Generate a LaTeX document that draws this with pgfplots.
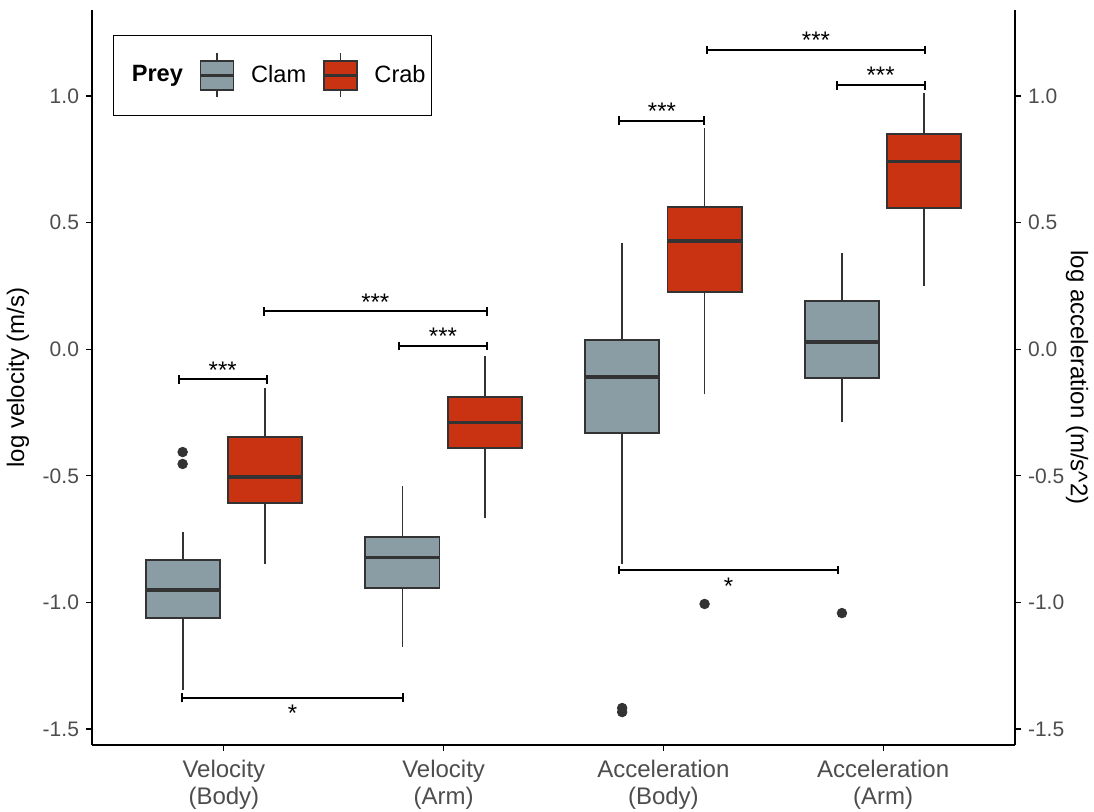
\documentclass[border=0pt]{standalone}
\usepackage{pgfplots}
\pgfplotsset{compat=1.18}
\usepackage{fontspec}
\setmainfont{Liberation Sans}
\definecolor{clam}{RGB}{138,157,164}
\definecolor{crab}{RGB}{201,51,18}
\definecolor{boxline}{RGB}{51,51,51}
\definecolor{ticktext}{RGB}{77,77,77}
% #1 fill, #2 left, #3 centre, #4 right, #5 lower whisker, #6 Q1, #7 median, #8 Q3, #9 upper whisker
\newcommand{\bx}[9]{%
  \addplot[forget plot, boxline, line width=0.9pt] coordinates {(#3,#5) (#3,#6)};
  \addplot[forget plot, boxline, line width=0.9pt] coordinates {(#3,#8) (#3,#9)};
  \addplot[forget plot, fill=#1, draw=boxline, line width=0.9pt] coordinates {(#2,#6) (#4,#6) (#4,#8) (#2,#8)} -- cycle;
  \addplot[forget plot, boxline, line width=1.8pt] coordinates {(#2,#7) (#4,#7)};
}
\begin{document}
\begin{tikzpicture}
\pgfplotsset{
  base/.style={
    scale only axis, width=461.5pt, height=367.5pt,
    xmin=0.4, xmax=4.6, ymin=-1.563, ymax=1.34,
    ytick={-1.5,-1,-0.5,0,0.5,1},
    yticklabels={-1.5,-1.0,-0.5,0.0,0.5,1.0},
    tick align=outside, major tick length=3pt,
    every tick/.style={black, line width=0.6pt},
    axis line style={black, line width=0.75pt},
    yticklabel style={font=\fontsize{10.5}{12}\selectfont, color=ticktext},
    label style={font=\fontsize{12}{14}\selectfont, color=black},
  },
  outl/.style={forget plot, only marks, mark=*, mark size=2.4pt, color=boxline},
  brk/.style={forget plot, black, line width=1pt, mark=|, mark size=2.2pt, mark options={line width=1pt}},
}
\begin{axis}[base,
  axis x line*=bottom, axis y line*=left,
  xtick={1,2,3,4},
  xticklabels={Velocity\\(Body),Velocity\\(Arm),Acceleration\\(Body),Acceleration\\(Arm)},
  xticklabel style={align=center, font=\fontsize{12}{13.5}\selectfont, color=ticktext, yshift=-1pt},
  ylabel={log velocity (m/s)},
  legend columns=-1,
  legend style={at={(0.023,0.966)}, anchor=north west, draw=black, line width=0.6pt,
    font=\fontsize{11.8}{14}\selectfont, inner xsep=1pt, inner ysep=8.5pt,
    /tikz/every even column/.append style={column sep=6pt},
    /tikz/every odd column/.append style={column sep=6pt},
    /tikz/column 1/.style={column sep=2pt}},
  legend cell align=left,
]
% Velocity (Body)
\bx{clam}{0.644}{0.8125}{0.981}{-1.346}{-1.062}{-0.951}{-0.833}{-0.722}
\bx{crab}{1.019}{1.1875}{1.356}{-0.848}{-0.607}{-0.504}{-0.346}{-0.153}
% Velocity (Arm)
\bx{clam}{1.644}{1.8125}{1.981}{-1.175}{-0.944}{-0.822}{-0.740}{-0.539}
\bx{crab}{2.019}{2.1875}{2.356}{-0.668}{-0.391}{-0.290}{-0.188}{-0.027}
% Acceleration (Body)
\bx{clam}{2.644}{2.8125}{2.981}{-0.848}{-0.332}{-0.109}{0.036}{0.421}
\bx{crab}{3.019}{3.1875}{3.356}{-0.178}{0.227}{0.427}{0.563}{0.872}
% Acceleration (Arm)
\bx{clam}{3.644}{3.8125}{3.981}{-0.289}{-0.115}{0.028}{0.190}{0.381}
\bx{crab}{4.019}{4.1875}{4.356}{0.250}{0.559}{0.741}{0.850}{1.011}
% outliers
\addplot[outl] coordinates {(0.8125,-0.406) (0.8125,-0.453) (2.8125,-1.417) (2.8125,-1.433) (3.1875,-1.006) (3.8125,-1.042)};
% significance brackets
\addplot[brk] coordinates {(0.795,-0.119) (1.195,-0.119)};
\addplot[brk] coordinates {(1.181,0.150) (2.197,0.150)};
\addplot[brk] coordinates {(1.797,0.013) (2.197,0.013)};
\addplot[brk] coordinates {(0.809,-1.376) (1.815,-1.376)};
\addplot[brk] coordinates {(2.80,0.902) (3.187,0.902)};
\addplot[brk] coordinates {(3.20,1.182) (4.189,1.182)};
\addplot[brk] coordinates {(3.788,1.043) (4.189,1.043)};
\addplot[brk] coordinates {(2.80,-0.872) (3.793,-0.872)};
\begin{scope}[every node/.style={font=\fontsize{12}{13}\selectfont, anchor=base, inner sep=0pt}]
\node at (axis cs:0.995,-0.119) [yshift=0.6pt] {***};
\node at (axis cs:1.689,0.150) [yshift=0.6pt] {***};
\node at (axis cs:1.997,0.013) [yshift=0.6pt] {***};
\node at (axis cs:1.312,-1.376) [yshift=-12pt] {*};
\node at (axis cs:2.9935,0.902) [yshift=0.6pt] {***};
\node at (axis cs:3.6945,1.182) [yshift=0.6pt] {***};
\node at (axis cs:3.9885,1.043) [yshift=0.6pt] {***};
\node at (axis cs:3.2965,-0.872) [yshift=-12pt] {*};
\end{scope}
% legend
\addlegendimage{empty legend}
\addlegendentry{\textbf{Prey}}
\addlegendimage{legend image code/.code={
  \draw[boxline, line width=0.8pt] (8.25pt,-11pt) -- (8.25pt,11pt);
  \draw[fill=clam, draw=boxline, line width=0.9pt] (0pt,-7.25pt) rectangle (16.5pt,7.25pt);
  \draw[boxline, line width=1.6pt] (0pt,0pt) -- (16.5pt,0pt);
}}
\addlegendentry{Clam}
\addlegendimage{legend image code/.code={
  \draw[boxline, line width=0.8pt] (8.25pt,-11pt) -- (8.25pt,11pt);
  \draw[fill=crab, draw=boxline, line width=0.9pt] (0pt,-7.25pt) rectangle (16.5pt,7.25pt);
  \draw[boxline, line width=1.6pt] (0pt,0pt) -- (16.5pt,0pt);
}}
\addlegendentry{Crab}
\end{axis}
\begin{axis}[base,
  axis x line=none, axis y line*=right,
  ylabel={log acceleration (m/s\textasciicircum 2)},
  ylabel style={rotate=180}, ylabel shift=-6pt,
]
\end{axis}
\pgfresetboundingbox
\path[use as bounding box] (-46pt,-33.5pt) rectangle (501pt,372.5pt);
\end{tikzpicture}
\end{document}
